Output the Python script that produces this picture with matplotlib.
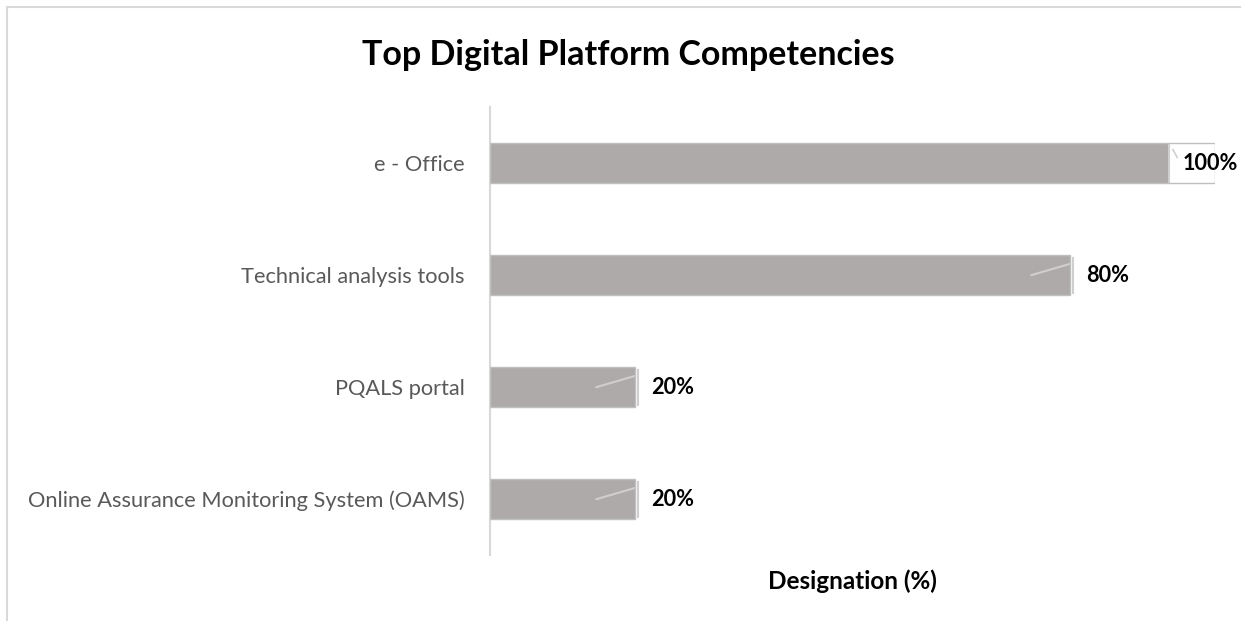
import matplotlib.pyplot as plt
from matplotlib.patches import Rectangle

categories = [
    "e - Office",
    "Technical analysis tools",
    "PQALS portal",
    "Online Assurance Monitoring System (OAMS)",
]
values = [100, 80, 20, 20]
value_labels = ["100%", "80%", "20%", "20%"]

plt.rcParams["font.family"] = ["Lato", "DejaVu Sans"]

BAR_COLOR = "#aeaaaa"
EDGE_COLOR = "#bfbfbf"
LEADER_COLOR = "#d0cece"

fig = plt.figure(figsize=(12.41, 6.21), dpi=100)
ax = fig.add_axes([0.3948, 0.106, 0.5842, 0.7217])

# figure frame (top and left edges only visible in the reference)
fig.patches.append(
    Rectangle((7 / 1241, -0.1), 1.2, 1 - 7 / 621 + 0.1,
              transform=fig.transFigure, fill=False,
              edgecolor="#d9d9d9", linewidth=1.5)
)

y_pos = list(range(len(categories)))
bar_height = 0.36

ax.barh(y_pos, values, height=bar_height, color=BAR_COLOR,
        edgecolor="none", zorder=2)

for y, v, label in zip(y_pos, values, value_labels):
    if v >= 100:
        # label sits inside the bar end on a white box
        ax.text(
            v - 4.5, y, label,
            ha="left", va="center",
            fontsize=15.6, fontweight="bold", color="black",
            bbox=dict(facecolor="white", edgecolor="none",
                      boxstyle="square,pad=0.65"),
            zorder=3,
        )
        ax.plot([v - 6.3, v - 6.3], [y - 0.17, y + 0.17],
                color=LEADER_COLOR, linewidth=1.5, zorder=4)
        ax.plot([v - 5.8, v - 5.2], [y - 0.12, y - 0.05],
                color=LEADER_COLOR, linewidth=1.2, zorder=4)
    else:
        ax.text(
            v + 2.3, y, label,
            ha="left", va="center",
            fontsize=15.6, fontweight="bold", color="black",
            zorder=3,
        )
        # leader line remnants
        ax.plot([v + 0.4, v + 0.4], [y - 0.15, y + 0.16],
                color=LEADER_COLOR, linewidth=1.5, zorder=4)
        ax.plot([v - 5.3, v], [y, y - 0.1],
                color=LEADER_COLOR, linewidth=1.5, zorder=4)

# bar outlines drawn above the label boxes
ax.barh(y_pos, values, height=bar_height, fill=False,
        edgecolor=EDGE_COLOR, linewidth=1, zorder=5)

ax.set_xlim(0, 100)
ax.set_ylim(len(categories) - 0.5, -0.5)
ax.set_yticks(y_pos)
ax.set_yticklabels(categories, fontsize=15.7, color="#595959")
ax.tick_params(axis="y", length=0, pad=18)
ax.set_xticks([])

for side in ["top", "right", "bottom"]:
    ax.spines[side].set_visible(False)
ax.spines["left"].set_color("#d9d9d9")
ax.spines["left"].set_linewidth(1.5)

ax.set_xlabel("Designation (%)", fontsize=17.5, fontweight="bold",
              color="black", labelpad=10)

fig.text(628 / 1241, 1 - 55 / 621, "Top Digital Platform Competencies",
         ha="center", va="center", fontsize=24.5, fontweight="bold",
         color="black")

fig.savefig("out.png", dpi=100)
